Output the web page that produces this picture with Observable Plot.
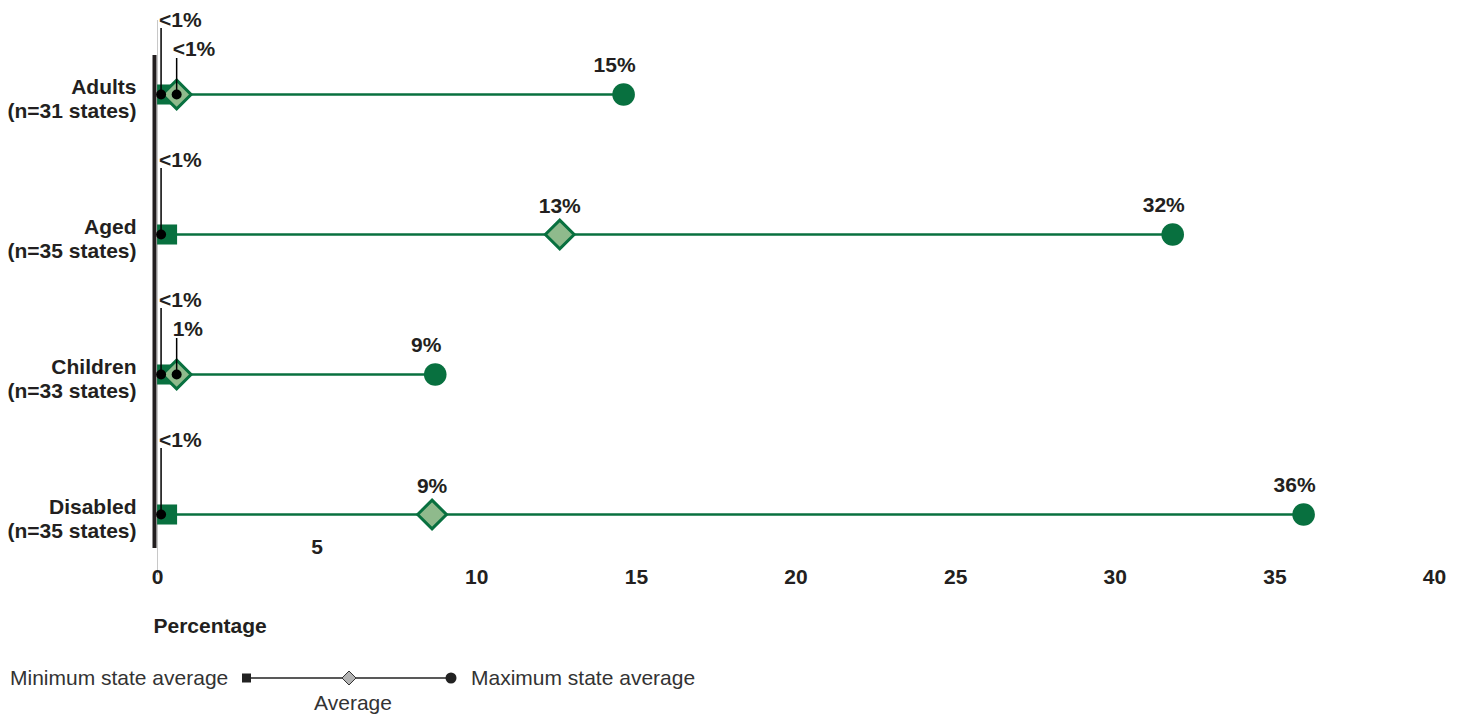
<!DOCTYPE html>
<html><head><meta charset="utf-8">
<script src="https://cdn.jsdelivr.net/npm/d3@7"></script>
<script src="https://cdn.jsdelivr.net/npm/@observablehq/plot@0.6"></script>
<style>
body{margin:0;background:#fff;font-family:"Liberation Sans",Arial,Helvetica,sans-serif;}
#chart svg{display:block;}
#legend{display:block;}
</style></head><body>
<div id="chart"></div>
<svg id="legend" width="1461" height="65"></svg>
<script>
const groups = ["Adults", "Aged", "Children", "Disabled"];
const nStates = [31, 35, 33, 35];
const minValues = [0.3, 0.3, 0.3, 0.3];
const avgValues = [0.6, 12.6, 0.6, 8.6];
const maxValues = [14.6, 31.8, 8.7, 35.9];
const minLabels = ["<1%", "<1%", "<1%", "<1%"];
const avgLabels = ["<1%", "13%", "1%", "9%"];
const maxLabels = ["15%", "32%", "9%", "36%"];
const xTicks = [0, 5, 10, 15, 20, 25, 30, 35, 40];
const xTitle = "Percentage";
const legendLabels = ["Minimum state average", "Average", "Maximum state average"];

const rows = groups.map((g, i) => ({
  group: g,
  label: `${g}\n(n=${nStates[i]} states)`,
  min: minValues[i], avg: avgValues[i], max: maxValues[i],
  minLabel: minLabels[i], avgLabel: avgLabels[i], maxLabel: maxLabels[i]
}));
const leaderAvg = rows.filter(d => d.avg < 2);
const plainAvg = rows.filter(d => d.avg >= 2);

const green = "#08703f", light = "#8fba8c", ink = "#231f20";
const font = {fontSize: 21, fontWeight: "bold", fill: ink};

const chart = Plot.plot({
  width: 1461, height: 650,
  marginLeft: 157, marginRight: 27, marginTop: 55, marginBottom: 102,
  x: {domain: [0, 40], axis: null},
  y: {domain: groups, type: "point", padding: 0, insetTop: 38, insetBottom: 33, axis: null},
  style: {fontFamily: '"Liberation Sans", Arial, Helvetica, sans-serif', background: "#fff", overflow: "visible"},
  marks: [
    Plot.ruleX([0], {stroke: "#c8c8c8", strokeWidth: 1, insetTop: -35, insetBottom: -27}),
    Plot.ruleX([0], {stroke: ink, strokeWidth: 4, dx: -3}),
    Plot.link(rows, {x1: "min", x2: "max", y1: "group", y2: "group", stroke: green, strokeWidth: 2.5}),
    Plot.dot(rows, {x: "min", y: "group", symbol: "square", r: 11.3, fill: green}),
    Plot.dot(rows, {x: "avg", y: "group", symbol: "diamond2", r: 13, fill: light, stroke: green, strokeWidth: 3}),
    Plot.dot(rows, {x: "max", y: "group", r: 11.3, fill: green}),
    // min annotations
    Plot.ruleX(rows, {x: "min", y1: "group", y2: "group", insetTop: -66, dx: -6, stroke: "#000", strokeWidth: 1.5}),
    Plot.dot(rows, {x: "min", y: "group", r: 5, fill: "#000", dx: -6}),
    Plot.text(rows, {x: "min", y: "group", text: "minLabel", dy: -74, dx: -8, textAnchor: "start", ...font}),
    // small averages with leader
    Plot.ruleX(leaderAvg, {x: "avg", y1: "group", y2: "group", insetTop: -36, stroke: "#000", strokeWidth: 1.5}),
    Plot.dot(leaderAvg, {x: "avg", y: "group", r: 5, fill: "#000"}),
    Plot.text(leaderAvg, {x: "avg", y: "group", text: "avgLabel", dy: -45, dx: -4, textAnchor: "start", ...font}),
    // other averages
    Plot.text(plainAvg, {x: "avg", y: "group", text: "avgLabel", dy: -28, ...font}),
    // maxima
    Plot.text(rows, {x: "max", y: "group", text: "maxLabel", dy: -29, dx: -9, ...font}),
    // category labels
    Plot.text(rows, {y: "group", text: "label", frameAnchor: "left", textAnchor: "end", dx: -21, dy: 4, lineHeight: 1.15, ...font}),
    // x tick labels
    Plot.text(xTicks.filter(t => t !== 5), {x: d => d, text: d => String(d), frameAnchor: "bottom", dy: 35, ...font}),
    Plot.text(xTicks.filter(t => t === 5), {x: d => d, text: d => String(d), frameAnchor: "bottom", dy: 5, ...font}),
    Plot.text([xTitle], {text: d => d, frameAnchor: "bottom-left", textAnchor: "start", dx: -4, dy: 84, ...font})
  ]
});
document.getElementById("chart").append(chart);

// legend
const lg = d3.select("#legend");
const ly = 28;
lg.append("line").attr("x1", 246).attr("x2", 451).attr("y1", ly).attr("y2", ly).attr("stroke", "#222").attr("stroke-width", 1.5);
lg.append("rect").attr("x", 242).attr("y", ly - 4.5).attr("width", 9).attr("height", 9).attr("fill", "#222");
lg.append("path").attr("d", `M349,${ly - 7}L356,${ly}L349,${ly + 7}L342,${ly}Z`).attr("fill", "#b3b3b3").attr("stroke", "#333").attr("stroke-width", 1);
lg.append("circle").attr("cx", 451).attr("cy", ly).attr("r", 5.5).attr("fill", "#222");
const lf = '"Liberation Sans", Arial, sans-serif';
lg.append("text").attr("x", 10).attr("y", ly).attr("dy", "0.35em").attr("font-size", 21).attr("font-family", lf).attr("fill", "#333").text(legendLabels[0]);
lg.append("text").attr("x", 353).attr("y", ly + 25).attr("dy", "0.35em").attr("text-anchor", "middle").attr("font-size", 21).attr("font-family", lf).attr("fill", "#333").text(legendLabels[1]);
lg.append("text").attr("x", 471).attr("y", ly).attr("dy", "0.35em").attr("font-size", 21).attr("font-family", lf).attr("fill", "#333").text(legendLabels[2]);
</script>
</body></html>
